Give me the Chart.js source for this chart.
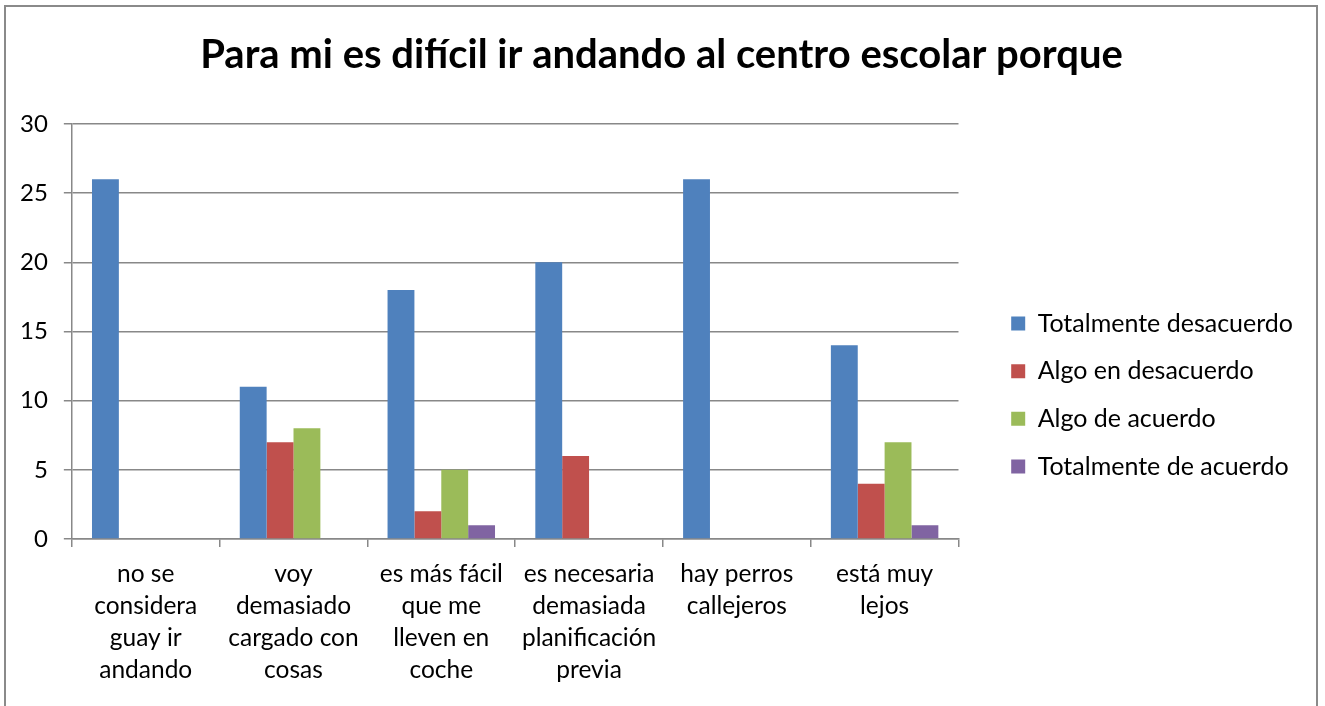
<!DOCTYPE html>
<html>
<head>
<meta charset="utf-8">
<script src="https://cdn.jsdelivr.net/npm/chart.js@4.4.1/dist/chart.umd.min.js"></script>
<style>
  html, body { margin: 0; padding: 0; background: #fff; overflow: hidden; }
  #frame { position: absolute; left: 4px; top: 5px; width: 1314px; height: 720px; border: 2px solid #8a8a8a; box-sizing: border-box; }
  #wrap { position: absolute; left: 0; top: 0; width: 1325px; height: 706px; }
</style>
</head>
<body>
<div id="frame"></div>
<div id="wrap"><canvas id="c" width="1325" height="706"></canvas></div>
<script>
const titleText = "Para mi es difícil ir andando al centro escolar porque";
const categories = [
  ["no se", "considera", "guay ir", "andando"],
  ["voy", "demasiado", "cargado con", "cosas"],
  ["es más fácil", "que me", "lleven en", "coche"],
  ["es necesaria", "demasiada", "planificación", "previa"],
  ["hay perros", "callejeros"],
  ["está muy", "lejos"]
];
const seriesNames = ["Totalmente desacuerdo", "Algo en desacuerdo", "Algo de acuerdo", "Totalmente de acuerdo"];
const totalmenteDesacuerdo = [26, 11, 18, 20, 26, 14];
const algoEnDesacuerdo     = [0, 7, 2, 6, 0, 4];
const algoDeAcuerdo        = [0, 8, 5, 0, 0, 7];
const totalmenteDeAcuerdo  = [0, 0, 1, 0, 0, 1];
const yTicks = [0, 5, 10, 15, 20, 25, 30];
const seriesColors = ["#4F81BD", "#C0504D", "#9BBB59", "#8064A2"];

const FONT = "Lato, Carlito, Calibri, sans-serif";
const seriesValues = [totalmenteDesacuerdo, algoEnDesacuerdo, algoDeAcuerdo, totalmenteDeAcuerdo];

const titleShift = {
  id: 'titleShift',
  afterLayout(chart) {
    const t = chart.titleBlock;
    if (t) { t.left += 8; t.right += 8; }
  }
};

new Chart(document.getElementById('c'), {
  type: 'bar',
  data: {
    labels: categories,
    datasets: seriesNames.map((n, i) => ({
      label: n,
      data: seriesValues[i],
      backgroundColor: seriesColors[i],
      borderWidth: 0,
      categoryPercentage: 4 / 5.5,
      barPercentage: 1.0,
      yAxisID: 'y'
    }))
  },
  plugins: [titleShift],
  options: {
    responsive: false,
    animation: false,
    devicePixelRatio: 1,
    layout: { padding: { left: 4, right: 22, top: 0, bottom: 9 } },
    plugins: {
      title: {
        display: true,
        text: titleText,
        color: '#000',
        font: { family: FONT, size: 40, weight: 'bold' },
        padding: { top: 31, bottom: 45 }
      },
      legend: {
        position: 'right',
        align: 'center',
        title: { display: true, text: ' ', font: { size: 10 }, padding: { top: 0, bottom: 81 } },
        labels: {
          color: '#000',
          font: { family: FONT, size: 25 },
          boxWidth: 14,
          boxHeight: 14,
          padding: 22.7
        }
      },
      tooltip: { enabled: false }
    },
    scales: {
      x: {
        grid: { display: true, drawOnChartArea: false, offset: true, color: '#888888', lineWidth: 1.5, tickLength: 8 },
        border: { color: '#888888', width: 1.5 },
        ticks: { color: '#000', font: { family: FONT, size: 24.5, lineHeight: 1.306 }, maxRotation: 0, autoSkip: false, padding: 11 }
      },
      y: {
        min: 0, max: 30,
        afterBuildTicks: (s) => { s.ticks = yTicks.map(v => ({ value: v })); },
        ticks: { color: '#000', font: { family: FONT, size: 24 }, padding: 16 },
        grid: { color: '#888888', lineWidth: 1.5, tickLength: 8 },
        border: { color: '#888888', width: 1.5 }
      },
      spacer: {
        type: 'linear',
        position: 'right',
        display: false,
        afterFit: (s) => { s.width = 30; }
      }
    }
  }
});
</script>
</body>
</html>
